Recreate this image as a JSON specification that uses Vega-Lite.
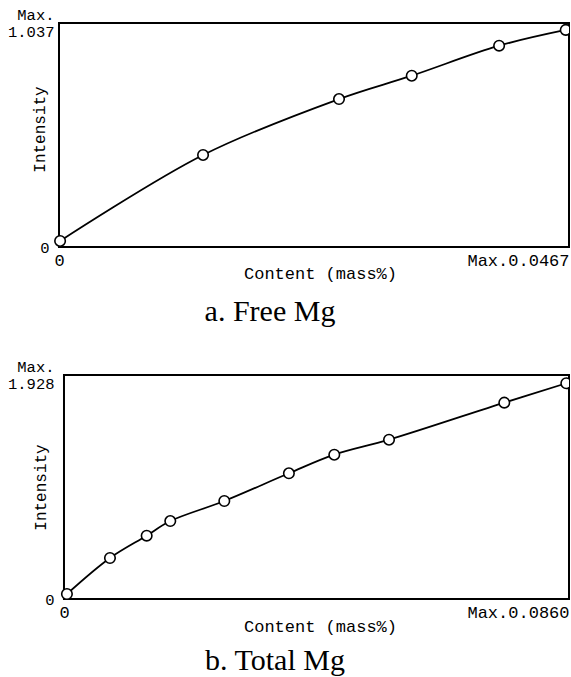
{
  "$schema": "https://vega.github.io/schema/vega-lite/v6.json",
  "background": "white",
  "padding": {"left": 7, "top": 7, "right": 0, "bottom": 0},
  "spacing": 32,
  "columns": 1,
  "config": {
    "view": {"stroke": null},
    "axis": {"domain": false, "ticks": false, "grid": false, "labelColor": "black", "titleColor": "black", "labelFont": "Liberation Mono", "titleFont": "Liberation Mono", "titleFontWeight": "normal"},
    "title": {"font": "Liberation Serif", "fontSize": 30, "fontWeight": "normal", "color": "black"}
  },
  "concat": [
    {
      "width": 510,
      "height": 224,
      "data": {"values": [
        {"content": 0.0001, "intensity": 0.028},
        {"content": 0.01319, "intensity": 0.426},
        {"content": 0.02564, "intensity": 0.685},
        {"content": 0.0323, "intensity": 0.793},
        {"content": 0.0403, "intensity": 0.932},
        {"content": 0.0464, "intensity": 1.005}
      ]},
      "title": {"text": "a. Free Mg", "orient": "bottom", "dx": -44, "offset": 16},
      "encoding": {
        "x": {"field": "content", "type": "quantitative", "scale": {"domain": [0, 0.0467], "nice": false, "zero": false},
          "axis": {"values": [0, 0.0467], "labelExpr": "datum.value == 0 ? '0' : 'Max.0.0467'",
            "labelAlign": {"condition": {"test": "datum.value > 0", "value": "right"}, "value": "center"},
            "labelBaseline": "top", "labelPadding": 5, "labelFontSize": 17,
            "title": "Content (mass%)", "titleFontSize": 17, "titleX": 261, "titleY": 26, "titleBaseline": "middle", "titleAlign": "center"}},
        "y": {"field": "intensity", "type": "quantitative", "scale": {"domain": [0, 1.037], "nice": false, "zero": false},
          "axis": {"values": [0, 1.037], "labelExpr": "datum.value == 0 ? '0' : ['Max.', '1.037']",
            "labelPadding": {"condition": {"test": "datum.value == 0", "value": 10}, "value": 5},
            "labelOffset": {"condition": {"test": "datum.value > 0", "value": -8.5}, "value": 0},
            "labelFontSize": 15.5, "labelLineHeight": 17, "labelBaseline": "middle",
            "title": "Intensity", "titleFontSize": 16, "titleX": -20, "titleY": 106, "titleAngle": -90, "titleAlign": "center", "titleBaseline": "middle"}}
      },
      "layer": [
        {"transform": [{"filter": "datum.content <= 0.001"}],
         "mark": {"type": "rect", "filled": false, "color": "black", "strokeWidth": 2},
         "encoding": {"x": {"datum": 0}, "x2": {"datum": 0.0467}, "y": {"datum": 0}, "y2": {"datum": 1.037}}},
        {"mark": {"type": "line", "interpolate": "catmull-rom", "color": "black", "strokeWidth": 1.8}},
        {"transform": [{"filter": "datum.content > 0.001"}],
         "mark": {"type": "point", "shape": "circle", "filled": true, "fill": "white", "stroke": "black", "strokeWidth": 1.6, "size": 110, "opacity": 1, "clip": true}},
        {"transform": [{"filter": "datum.content <= 0.001"}],
         "mark": {"type": "point", "shape": "circle", "filled": true, "fill": "white", "stroke": "black", "strokeWidth": 1.6, "size": 110, "opacity": 1}}
      ]
    },
    {
      "width": 510,
      "height": 224,
      "data": {"values": [
        {"content": 0.0005, "intensity": 0.043},
        {"content": 0.00783, "intensity": 0.353},
        {"content": 0.01408, "intensity": 0.545},
        {"content": 0.0181, "intensity": 0.671},
        {"content": 0.0273, "intensity": 0.8435},
        {"content": 0.0383, "intensity": 1.082},
        {"content": 0.04603, "intensity": 1.242},
        {"content": 0.05535, "intensity": 1.371},
        {"content": 0.07498, "intensity": 1.69},
        {"content": 0.08554, "intensity": 1.857}
      ]},
      "title": {"text": "b. Total Mg", "orient": "bottom", "dx": -39, "offset": 12},
      "encoding": {
        "x": {"field": "content", "type": "quantitative", "scale": {"domain": [-0.00085, 0.086], "nice": false, "zero": false},
          "axis": {"values": [0, 0.086], "labelExpr": "datum.value == 0 ? '0' : 'Max.0.0860'",
            "labelAlign": {"condition": {"test": "datum.value > 0", "value": "right"}, "value": "center"},
            "labelBaseline": "top", "labelPadding": 5, "labelFontSize": 17,
            "title": "Content (mass%)", "titleFontSize": 17, "titleX": 261, "titleY": 27, "titleBaseline": "middle", "titleAlign": "center"}},
        "y": {"field": "intensity", "type": "quantitative", "scale": {"domain": [0, 1.928], "nice": false, "zero": false},
          "axis": {"values": [0, 1.928], "labelExpr": "datum.value == 0 ? '0' : ['Max.', '1.928']",
            "labelPadding": 5,
            "labelOffset": {"condition": {"test": "datum.value > 0", "value": -8.5}, "value": 0},
            "labelFontSize": 15.5, "labelLineHeight": 17, "labelBaseline": "middle",
            "title": "Intensity", "titleFontSize": 16, "titleX": -19, "titleY": 112, "titleAngle": -90, "titleAlign": "center", "titleBaseline": "middle"}}
      },
      "layer": [
        {"transform": [{"filter": "datum.content <= 0.001"}],
         "mark": {"type": "rect", "filled": false, "color": "black", "strokeWidth": 2},
         "encoding": {"x": {"datum": 0}, "x2": {"datum": 0.086}, "y": {"datum": 0}, "y2": {"datum": 1.928}}},
        {"mark": {"type": "line", "interpolate": "catmull-rom", "color": "black", "strokeWidth": 1.8}},
        {"transform": [{"filter": "datum.content > 0.001"}],
         "mark": {"type": "point", "shape": "circle", "filled": true, "fill": "white", "stroke": "black", "strokeWidth": 1.6, "size": 110, "opacity": 1, "clip": true}},
        {"transform": [{"filter": "datum.content <= 0.001"}],
         "mark": {"type": "point", "shape": "circle", "filled": true, "fill": "white", "stroke": "black", "strokeWidth": 1.6, "size": 110, "opacity": 1}}
      ]
    }
  ]
}
